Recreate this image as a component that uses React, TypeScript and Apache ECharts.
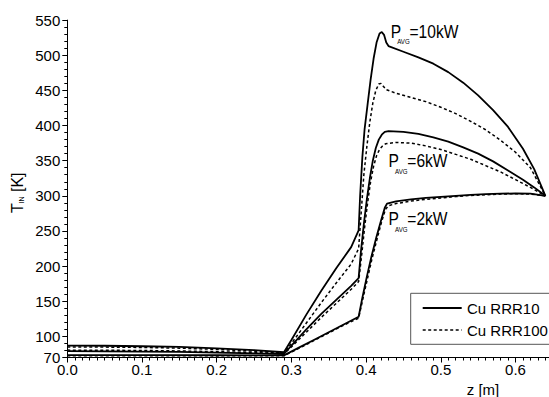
import React, { useEffect, useRef } from "react";
import * as echarts from "echarts";

type P = [number, number];

// z [m], T_IN [K]
const p10_rrr10: P[] = [
  [0, 87], [0.05, 86.7], [0.1, 86], [0.15, 85], [0.2, 83], [0.25, 80.5], [0.29, 77.5],
  [0.3, 95], [0.32, 131], [0.34, 165], [0.36, 197], [0.38, 227], [0.39, 251],
  [0.392, 300], [0.395, 355], [0.398, 395], [0.402, 430], [0.406, 465], [0.41, 495],
  [0.414, 518], [0.418, 531], [0.421, 533], [0.424, 529], [0.427, 518], [0.43, 513],
  [0.45, 505], [0.47, 497], [0.49, 488], [0.51, 476], [0.53, 461], [0.55, 443],
  [0.57, 422], [0.59, 398], [0.61, 367], [0.625, 338], [0.64, 300],
];
const p10_rrr100: P[] = [
  [0, 85], [0.05, 84.8], [0.1, 84.3], [0.15, 83.3], [0.2, 81.5], [0.25, 79], [0.29, 76.5],
  [0.3, 90], [0.32, 119], [0.34, 148], [0.36, 176], [0.38, 203], [0.39, 225],
  [0.393, 270], [0.397, 330], [0.401, 370], [0.405, 405], [0.409, 432], [0.413, 450],
  [0.417, 459], [0.42, 460], [0.423, 456], [0.427, 451], [0.44, 446], [0.46, 440],
  [0.48, 434], [0.5, 426], [0.52, 417], [0.54, 406], [0.56, 394], [0.58, 379],
  [0.6, 362], [0.62, 340], [0.64, 300],
];
const p6_rrr10: P[] = [
  [0, 79], [0.05, 78.8], [0.1, 78.5], [0.15, 78], [0.2, 77], [0.25, 76], [0.29, 75],
  [0.3, 87], [0.32, 110], [0.34, 132], [0.36, 152], [0.38, 172], [0.39, 183],
  [0.393, 220], [0.397, 260], [0.401, 295], [0.405, 325], [0.409, 350], [0.413, 368],
  [0.417, 380], [0.421, 387], [0.425, 391], [0.43, 392], [0.45, 391], [0.47, 388],
  [0.49, 383], [0.51, 377], [0.53, 369], [0.55, 360], [0.57, 349], [0.59, 336],
  [0.61, 323], [0.625, 312], [0.64, 300],
];
const p6_rrr100: P[] = [
  [0, 80.5], [0.05, 80.3], [0.1, 80], [0.15, 79.3], [0.2, 78.3], [0.25, 77], [0.29, 75.5],
  [0.3, 85], [0.32, 106], [0.34, 127], [0.36, 147], [0.38, 167], [0.39, 178],
  [0.394, 215], [0.398, 255], [0.402, 290], [0.406, 320], [0.41, 342], [0.414, 357],
  [0.418, 366], [0.422, 371], [0.426, 374], [0.44, 376], [0.46, 375], [0.48, 371],
  [0.5, 366], [0.52, 359], [0.54, 352], [0.56, 343], [0.58, 334], [0.6, 323],
  [0.62, 312], [0.64, 300],
];
const p2_rrr10: P[] = [
  [0, 73.5], [0.1, 73.5], [0.2, 73.2], [0.29, 73], [0.31, 84], [0.33, 95], [0.35, 106],
  [0.37, 117], [0.39, 128], [0.395, 155], [0.401, 185], [0.407, 213], [0.414, 242],
  [0.42, 265], [0.425, 283], [0.428, 289], [0.44, 292], [0.46, 295], [0.48, 297],
  [0.5, 298.5], [0.52, 300], [0.54, 301.5], [0.56, 302.5], [0.58, 303], [0.6, 303.5],
  [0.62, 303], [0.64, 300],
];
const p2_rrr100: P[] = [
  [0, 72.5], [0.1, 72.5], [0.2, 72.3], [0.29, 72.5], [0.31, 83], [0.33, 94], [0.35, 105],
  [0.37, 116], [0.39, 126], [0.396, 155], [0.402, 183], [0.408, 211], [0.415, 240],
  [0.421, 264], [0.426, 281], [0.43, 286], [0.44, 289], [0.46, 292.5], [0.48, 295],
  [0.5, 297], [0.52, 299], [0.54, 300.5], [0.56, 301.5], [0.58, 302.5], [0.6, 303],
  [0.62, 302.5], [0.64, 300],
];

const legendNames = ["Cu RRR10", "Cu RRR100"];
const powerLabels = ["=10kW", "=6kW", "=2kW"];

const FONT = "Liberation Sans, Arial, sans-serif";

function txt(x: number, y: number, text: string, size: number, extra: any = {}) {
  return {
    type: "text",
    x,
    y,
    silent: true,
    ...extra,
    style: {
      text,
      x: 0,
      y: 0,
      fontSize: size,
      fontFamily: FONT,
      fill: "#000",
      textAlign: extra.align || "left",
      textVerticalAlign: "middle",
      align: extra.align || "left",
      verticalAlign: "middle",
    },
  };
}

function pavg(xP: number, yC: number, label: string) {
  const sx = 0.82;
  return [
    txt(xP, yC, "P", 19, { scaleX: sx }),
    txt(xP + 6.5, yC + 10.5, "AVG", 7.5, { scaleX: sx }),
    txt(xP + 18.8, yC, label, 19, { scaleX: sx }),
  ];
}

export default function App() {
  const ref = useRef<HTMLDivElement>(null);
  useEffect(() => {
    if (!ref.current) return;
    const chart = echarts.init(ref.current, undefined, { renderer: "svg" });
    const solid = { color: "#000", width: 1.8, type: "solid" as const };
    const dashed = { color: "#000", width: 1.5, type: [3, 2.5] as any };
    const mk = (name: string, data: P[], ls: any) => ({
      name,
      type: "line",
      data,
      showSymbol: false,
      symbol: "none",
      lineStyle: ls,
      itemStyle: { color: "#000" },
      z: 3,
    });
    const axisCommon = {
      axisLine: { show: true, onZero: false, lineStyle: { color: "#000", width: 1 } },
      splitLine: { show: false },
      axisLabel: { color: "#000", fontSize: 15, fontFamily: FONT },
    };
    chart.setOption({
      animation: false,
      backgroundColor: "#fff",
      grid: { left: 67.3, top: 20.1, bottom: 39.5, right: 9.8, containLabel: false },
      xAxis: {
        type: "value",
        min: 0,
        max: 0.7,
        interval: 0.1,
        ...axisCommon,
        axisTick: { show: true, inside: false, length: 5, lineStyle: { color: "#000" } },
        minorTick: { show: true, splitNumber: 10, length: 3, lineStyle: { color: "#000" } },
        axisLabel: {
          ...axisCommon.axisLabel,
          margin: 4,
          formatter: (v: number) => (v > 0.65 ? "" : v.toFixed(1)),
        },
      },
      yAxis: {
        type: "value",
        min: 70,
        max: 550,
        splitNumber: 10,
        ...axisCommon,
        axisTick: { show: true, inside: false, length: 5, lineStyle: { color: "#000" } },
        minorTick: { show: true, splitNumber: 5, length: 3, lineStyle: { color: "#000" } },
        axisLabel: { ...axisCommon.axisLabel, margin: 7 },
      },
      series: [
        mk(legendNames[0], p10_rrr10, solid),
        mk(legendNames[1], p10_rrr100, dashed),
        mk(legendNames[0], p6_rrr10, solid),
        mk(legendNames[1], p6_rrr100, dashed),
        mk(legendNames[0], p2_rrr10, solid),
        mk(legendNames[1], p2_rrr100, dashed),
      ],
      graphic: [
        // axis titles
        txt(483, 389, "z [m]", 15, { align: "center" }),
        {
          type: "group",
          x: 17.5,
          y: 213,
          rotation: Math.PI / 2,
          children: [
            txt(0, 0, "T", 16),
            txt(9.6, 3.5, "IN", 7),
            txt(16.5, 0, " [K]", 16),
          ],
        },
        // power annotations
        ...pavg(390.7, 31.2, powerLabels[0]),
        ...pavg(388.5, 160.8, powerLabels[1]),
        ...pavg(388.5, 218.3, powerLabels[2]),
        // legend
        {
          type: "rect",
          shape: { x: 410.7, y: 293.3, width: 200, height: 51 },
          style: { fill: "#fff", stroke: "#555", lineWidth: 1 },
          z: 10,
        },
        {
          type: "line",
          shape: { x1: 422.7, y1: 308, x2: 461.7, y2: 308 },
          style: { stroke: "#000", lineWidth: 1.8 },
          z: 11,
        },
        {
          type: "line",
          shape: { x1: 422.7, y1: 330, x2: 461.7, y2: 330 },
          style: { stroke: "#000", lineWidth: 1.5, lineDash: [3, 2.5] },
          z: 11,
        },
        { ...txt(467, 308, legendNames[0], 15), z: 11 },
        { ...txt(467, 330, legendNames[1], 15), z: 11 },
      ],
    });
    return () => chart.dispose();
  }, []);
  return (
    <div
      style={{
        position: "fixed",
        left: 0,
        top: 0,
        width: 549,
        height: 397,
        overflow: "hidden",
        background: "#fff",
      }}
    >
      <div ref={ref} style={{ width: 600, height: 397 }} />
    </div>
  );
}
